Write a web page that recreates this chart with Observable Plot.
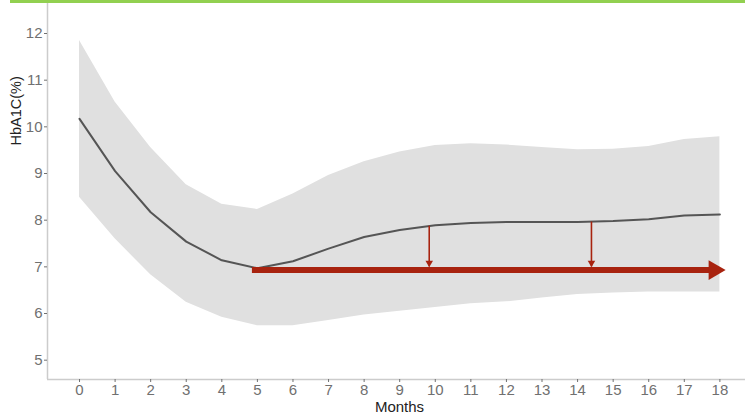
<!DOCTYPE html>
<html>
<head>
<meta charset="utf-8">
<script src="https://cdn.jsdelivr.net/npm/d3@7"></script>
<script src="https://cdn.jsdelivr.net/npm/@observablehq/plot@0.6"></script>
<style>
  html, body { margin: 0; padding: 0; background: #fff; overflow: hidden; }
  #topbar { height: 3px; margin-left: 10px; background: #92d050; }
  #chart svg { display: block; font-family: "Liberation Sans", Arial, sans-serif; }
</style>
</head>
<body>
<div id="topbar"></div>
<div id="chart"></div>
<script>
// Mean HbA1C by month with its confidence band
const months = [0, 1, 2, 3, 4, 5, 6, 7, 8, 9, 10, 11, 12, 13, 14, 15, 16, 17, 18];
const meanHbA1c = [10.17, 9.05, 8.17, 7.54, 7.14, 6.97, 7.12, 7.39, 7.64, 7.79, 7.89, 7.94, 7.96, 7.96, 7.96, 7.98, 8.02, 8.10, 8.12];
const upperBand = [11.85, 10.53, 9.56, 8.76, 8.34, 8.23, 8.56, 8.96, 9.25, 9.46, 9.60, 9.64, 9.61, 9.56, 9.51, 9.52, 9.58, 9.73, 9.79];
const lowerBand = [8.49, 7.60, 6.83, 6.24, 5.92, 5.74, 5.74, 5.85, 5.97, 6.05, 6.13, 6.21, 6.25, 6.33, 6.41, 6.44, 6.46, 6.46, 6.46];

// Reference level reached at month 5, held to the end of follow-up
const levelStart = 4.86;
const levelEnd = 18.16;
const levelValue = 6.93;

// Gaps between the observed curve and the reference level
const gapMonths = [9.83, 14.39];
const gapFrom = [7.87, 7.96];
const gapTo = 7.0;

const yTicks = [5, 6, 7, 8, 9, 10, 11, 12];
const xLabel = "Months";
const yLabel = "HbA1C(%)";

const xDomain = [-0.9, 18.72];
const yDomain = [4.586, 12.643];

const rows = months.map((m, i) => ({month: m, mean: meanHbA1c[i], lower: lowerBand[i], upper: upperBand[i]}));
const gaps = gapMonths.map((m, i) => ({month: m, from: gapFrom[i], to: gapTo}));
const level = [{x1: levelStart, x2: levelEnd, y: levelValue}];

const red = "#a8230f";
const axisGrey = "#cccccc";
const tickGrey = "#707070";

const chart = Plot.plot({
  width: 745,
  height: 414,
  marginLeft: 47,
  marginRight: 0,
  marginTop: 0,
  marginBottom: 38,
  style: {fontSize: "14px", background: "#fff", overflow: "visible"},
  x: {domain: xDomain, axis: null},
  y: {domain: yDomain, axis: null},
  marks: [
    Plot.areaY(rows, {x: "month", y1: "lower", y2: "upper", fill: "#e0e0e0"}),
    Plot.line(rows, {x: "month", y: "mean", stroke: "#555555", strokeWidth: 2}),
    // long reference arrow
    Plot.ruleY(level, {x1: "x1", x2: d => d.x2 - 0.3, y: "y", stroke: red, strokeWidth: 6}),
    Plot.dot(level, {x: "x2", y: "y", symbol: "triangle", r: 7.3, rotate: 90, dx: -11.3, fill: red, stroke: "none"}),
    // short drop arrows
    Plot.ruleX(gaps, {x: "month", y1: "from", y2: "to", stroke: red, strokeWidth: 1.6}),
    Plot.dot(gaps, {x: "month", y: "to", symbol: "triangle", r: 2.8, rotate: 180, dy: -4, fill: red, stroke: "none"}),
    // axis lines
    Plot.ruleY([yDomain[0]], {stroke: axisGrey, strokeWidth: 1.5}),
    Plot.ruleX([xDomain[0]], {stroke: axisGrey, strokeWidth: 1.5}),
    Plot.axisX({ticks: months, tickSize: 3, tickPadding: 2, color: tickGrey, fontSize: 15, label: null, tickFormat: d => String(d)}),
    Plot.axisY({ticks: yTicks, tickSize: 3, tickPadding: 2, color: tickGrey, fontSize: 15, label: null}),
    // axis titles
    Plot.text([xLabel], {frameAnchor: "bottom", dx: 3, dy: 32, fill: "#222", fontSize: 15}),
    Plot.text([yLabel], {frameAnchor: "left", dx: -31, dy: -46, rotate: -90, fill: "#222", fontSize: 14.5})
  ]
});

document.getElementById("chart").appendChild(chart);
</script>
</body>
</html>
